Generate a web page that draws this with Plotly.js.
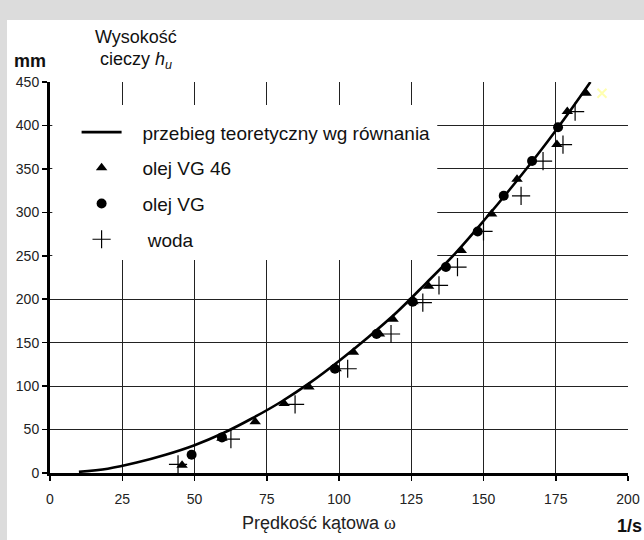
<!DOCTYPE html>
<html>
<head>
<meta charset="utf-8">
<script src="https://cdn.plot.ly/plotly-3.0.1.min.js"></script>
<style>html,body{margin:0;padding:0;background:#dcdcdc;}#chart{width:644px;height:540px;}</style>
</head>
<body>
<div id="chart"></div>
<script>
// Theoretical curve
var curveW = [10, 20, 30, 40, 50, 60, 70, 80, 90, 100, 110, 120, 130, 140, 150, 160, 170, 180, 187];
var curveH = [1.3, 5, 12, 21, 32, 46, 63, 82, 104, 129, 156, 185, 218, 252, 290, 330, 372, 417, 450];

// olej VG 46 (triangles)
var vg46W = [45.7, 59.5, 71, 81, 89.6, 99, 105, 114, 118.7, 125.6, 131, 142.3, 152.8, 161.6, 175.4, 179, 185.5];
var vg46H = [9, 40, 59, 80, 99, 120, 139, 160, 177, 197, 215, 256, 298, 338, 378, 416, 437];

// olej VG (circles)
var vgW = [49, 59.5, 98.6, 113, 125.5, 137, 148, 157, 166.8, 175.8];
var vgH = [21, 41, 120, 160, 197, 237, 278, 319, 359, 398];

// woda (plus)
var wodaW = [44.3, 62.6, 84.8, 103, 118, 129, 134.6, 141, 150, 163, 170.6, 177.5, 181.7];
var wodaH = [10, 39, 79, 120, 160, 196, 216, 237, 278, 319, 359, 378, 416];

// stray light marker
var extraW = [191];
var extraH = [437];

var xTicks = [0, 25, 50, 75, 100, 125, 150, 175, 200];
var yTicks = [0, 50, 100, 150, 200, 250, 300, 350, 400, 450];

var seriesNames = ['przebieg teoretyczny wg równania', 'olej VG 46', 'olej VG', 'woda'];

var FONT = "Liberation Sans, Arial, Helvetica, sans-serif";
var GAP = '\u00a0\u00a0\u00a0';

var traces = [
  {x: curveW, y: curveH, mode: 'lines', name: GAP + seriesNames[0],
   line: {color: '#000', width: 2.6, shape: 'spline'}, legendgroup: 'a'},
  {x: vg46W, y: vg46H, mode: 'markers', name: GAP + seriesNames[1],
   marker: {symbol: 'triangle-up', color: '#000', size: 10}, legendgroup: 'b'},
  {x: vgW, y: vgH, mode: 'markers', name: GAP + seriesNames[2],
   marker: {symbol: 'circle', color: '#000', size: 10}, legendgroup: 'c'},
  {x: wodaW, y: wodaH, mode: 'markers', name: GAP + '\u00a0' + seriesNames[3],
   marker: {symbol: 'cross-thin-open', color: '#000', size: 13, line: {color: '#000', width: 1.2}}, legendgroup: 'd'},
  {x: extraW, y: extraH, mode: 'markers', showlegend: false, hoverinfo: 'skip',
   marker: {symbol: 'x-thin-open', color: '#ffffb0', size: 9, line: {color: '#ffffb0', width: 2}}}
];

var layout = {
  width: 644, height: 540,
  margin: {l: 50, r: 16, t: 82, b: 67},
  paper_bgcolor: '#dcdcdc',
  plot_bgcolor: '#ffffff',
  font: {family: FONT, size: 14, color: '#222'},
  showlegend: true,
  legend: {
    x: 0.046, y: 0.92, xanchor: 'left', yanchor: 'top',
    bgcolor: 'rgba(255,255,255,0)', borderwidth: 0,
    font: {family: FONT, size: 19, color: '#111'},
    tracegroupgap: 8, itemwidth: 40
  },
  xaxis: {
    range: [0, 200], tickvals: xTicks, ticktext: xTicks.map(String),
    showgrid: true, gridcolor: '#222', gridwidth: 1,
    zeroline: false, showline: true, linecolor: '#000', linewidth: 3,
    ticks: 'outside', ticklen: 5, tickwidth: 1.5, tickcolor: '#000',
    ticklabelstandoff: 6,
    tickfont: {family: FONT, size: 14, color: '#222'}, fixedrange: true
  },
  yaxis: {
    range: [0, 450], tickvals: yTicks, ticktext: yTicks.map(String),
    showgrid: true, gridcolor: '#222', gridwidth: 1,
    zeroline: false, showline: true, linecolor: '#000', linewidth: 3,
    ticks: 'outside', ticklen: 5, tickwidth: 1.5, tickcolor: '#000',
    tickfont: {family: FONT, size: 14, color: '#222'}, fixedrange: true
  },
  shapes: [
    {type: 'rect', xref: 'paper', yref: 'paper', layer: 'below',
     x0: -0.0744, x1: 1.03, y0: -0.18, y1: 1.1586,
     fillcolor: '#ffffff', line: {width: 0}},
    {type: 'rect', xref: 'paper', yref: 'paper', layer: 'above',
     x0: 0.004, x1: 0.67, y0: 0.545, y1: 0.941,
     fillcolor: '#ffffff', line: {width: 0}}
  ],
  annotations: [
    {xref: 'paper', yref: 'paper', x: 0.149, y: 1.115, text: 'Wysokość', showarrow: false,
     xanchor: 'center', yanchor: 'middle', font: {family: FONT, size: 18, color: '#111'}},
    {xref: 'paper', yref: 'paper', x: 0.149, y: 1.056, text: 'cieczy <i>h<sub>u</sub></i>', showarrow: false,
     xanchor: 'center', yanchor: 'middle', font: {family: FONT, size: 18, color: '#111'}},
    {xref: 'paper', yref: 'paper', x: -0.035, y: 1.054, text: '<b>mm</b>', showarrow: false,
     xanchor: 'center', yanchor: 'middle', font: {family: FONT, size: 18, color: '#111'}},
    {xref: 'paper', yref: 'paper', x: 0.465, y: -0.128, text: "Prędkość kątowa <span style='font-family:Liberation Serif, Times New Roman, serif'>ω</span>", showarrow: false,
     xanchor: 'center', yanchor: 'middle', font: {family: FONT, size: 18, color: '#222'}},
    {xref: 'paper', yref: 'paper', x: 1.003, y: -0.136, text: '<b>1/s</b>', showarrow: false,
     xanchor: 'center', yanchor: 'middle', font: {family: FONT, size: 18, color: '#111'}}
  ]
};

Plotly.newPlot('chart', traces, layout, {displayModeBar: false, staticPlot: true});
</script>
</body>
</html>
